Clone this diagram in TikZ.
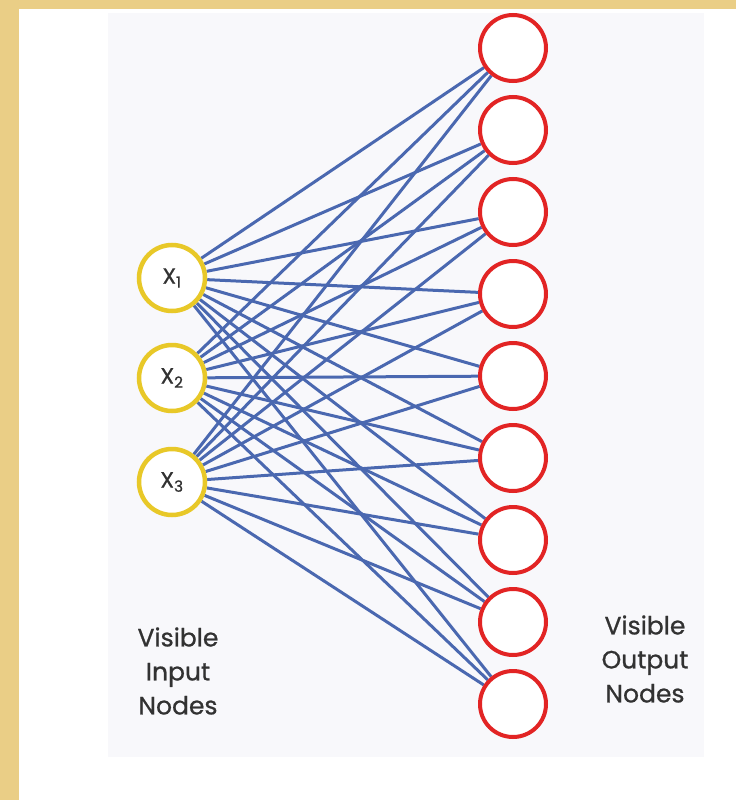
\documentclass[tikz,border=0pt]{standalone}
\usepackage{fontspec}
\setmainfont{Poppins}
\newfontfamily\labfont{Poppins}[FakeBold=0.8]
\definecolor{parch}{RGB}{234,206,134}
\definecolor{panel}{RGB}{248,248,251}
\definecolor{ringY}{RGB}{232,200,40}
\definecolor{ringR}{RGB}{226,36,36}
\definecolor{edgeB}{RGB}{74,104,176}
\definecolor{txt}{RGB}{50,50,50}
\pgfdeclarelayer{back}
\pgfdeclarelayer{wires}
\pgfsetlayers{back,wires,main}
\begin{document}
\begin{tikzpicture}[x=1pt,y=-1pt,
  innode/.style={circle,draw=ringY,line width=4.5pt,fill=white,minimum size=66pt,inner sep=0pt,font=\labfont\fontsize{22}{24}\selectfont,text=txt},
  outnode/.style={circle,draw=ringR,line width=4pt,fill=white,minimum size=66pt,inner sep=0pt},
  edge/.style={draw=edgeB,line width=3pt},
  lab/.style={align=center,font=\labfont\fontsize{25}{34}\selectfont,text=txt}]
\begin{pgfonlayer}{back}
\fill[parch] (0,0) rectangle (736,800);
\fill[white] (19,9) rectangle (736,800);
\fill[panel] (108,13) rectangle (704,757);
\end{pgfonlayer}
\useasboundingbox (0,0) rectangle (736,800);
\node[innode] (i1) at (172,278) {X\textsubscript{1}};
\node[innode] (i2) at (172,378) {X\textsubscript{2}};
\node[innode] (i3) at (172,482) {X\textsubscript{3}};
\foreach \k/\y in {1/48,2/130,3/212,4/294,5/376,6/458,7/540,8/622,9/704}{
  \node[outnode] (o\k) at (513,\y) {};
}
\begin{pgfonlayer}{wires}
\foreach \i in {1,2,3}{
  \foreach \k in {1,...,9}{
    \draw[edge] (i\i) -- (o\k);
  }
}
\end{pgfonlayer}
\node[lab] (inlab) at (178,671) {Visible\\Input\\Nodes};
\node[lab] (outlab) at (645,659) {Visible\\Output\\Nodes};
\end{tikzpicture}
\end{document}
